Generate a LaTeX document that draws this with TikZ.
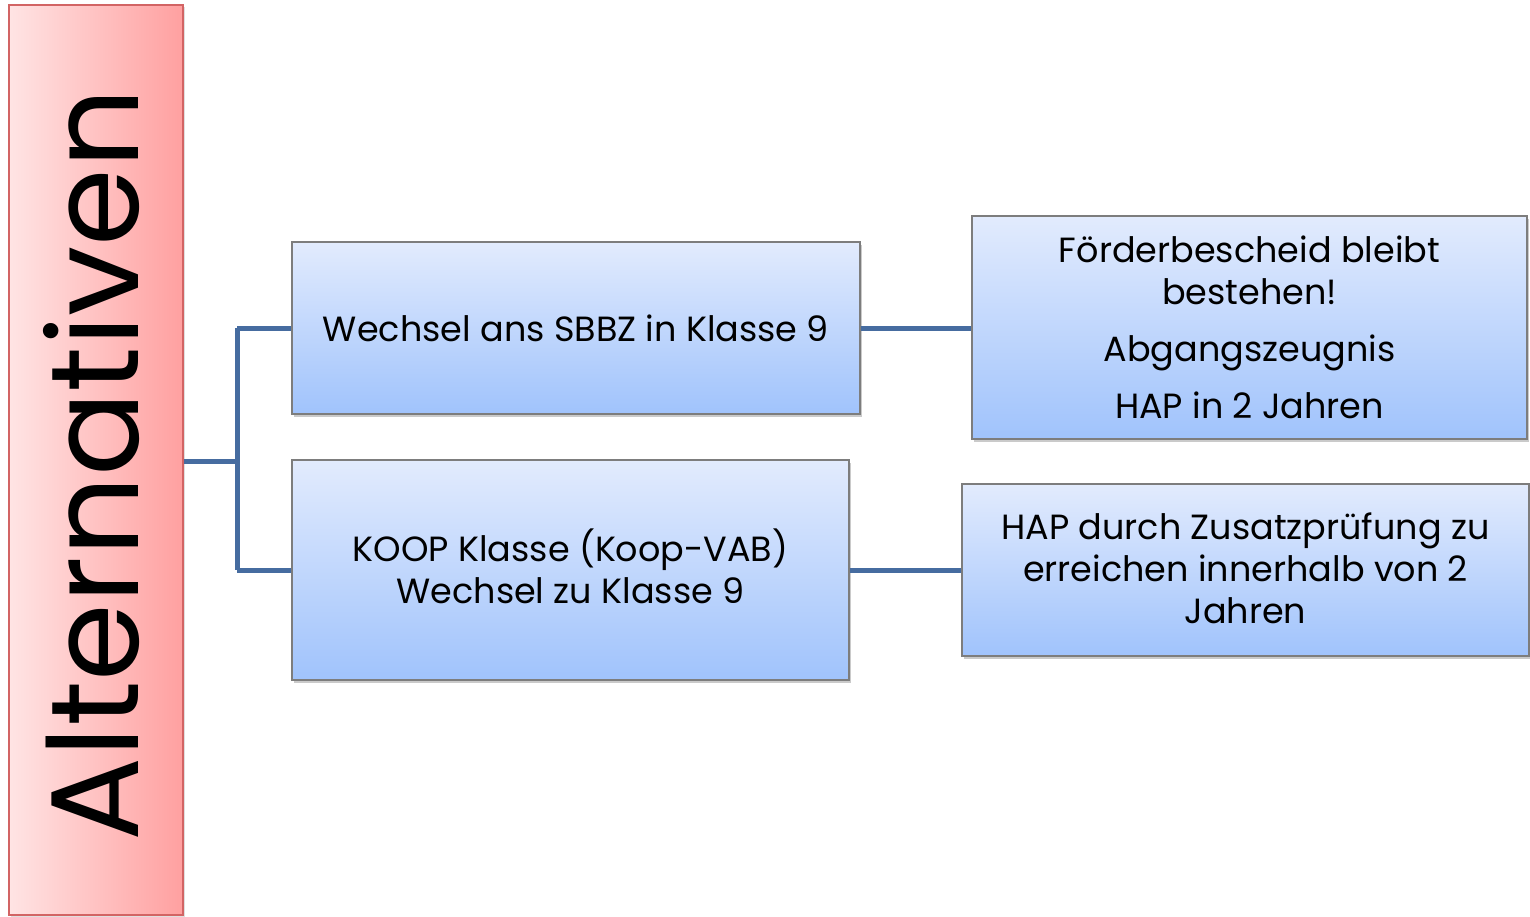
\documentclass[tikz,border=0pt]{standalone}
\usepackage{fontspec}
\setmainfont{Poppins}
\usetikzlibrary{shadows}
\definecolor{conn}{RGB}{70,108,160}
\definecolor{bluetop}{RGB}{226,235,253}
\definecolor{bluebot}{RGB}{160,195,252}
\definecolor{redleft}{RGB}{255,228,228}
\definecolor{redright}{RGB}{255,160,160}
\definecolor{redborder}{RGB}{210,100,100}
\definecolor{boxborder}{RGB}{125,125,125}
\tikzset{
  x=1pt, y=-1pt,
  bluebox/.style={draw=boxborder, line width=1.2pt, top color=bluetop, bottom color=bluebot,
    drop shadow={shadow xshift=2pt, shadow yshift=-3pt, opacity=0.35, fill=black!60},
    align=center, inner sep=0pt, font=\fontsize{35}{42}\selectfont},
  redbox/.style={draw=redborder, line width=1.5pt, left color=redleft, right color=redright,
    drop shadow={shadow xshift=2pt, shadow yshift=-2pt, opacity=0.25, fill=black!50}, inner sep=0pt},
  connector/.style={draw=conn, line width=5pt},
}
\begin{document}
\begin{tikzpicture}
\useasboundingbox (0,0) rectangle (1530,917);
\node[redbox, minimum width=174pt, minimum height=910pt] (alt) at (96,460) {};
\node[rotate=90, anchor=base, inner sep=0pt, font=\fontsize{125}{125}\selectfont] (altlabel) at (138,465) {Alternativen};
\node[bluebox, minimum width=568pt, minimum height=172pt] (b1) at (576,328) {Wechsel ans SBBZ in Klasse 9};
\node[bluebox, minimum width=557pt, minimum height=220pt] (b2) at (570.5,570) {};
\node[align=center, inner sep=0pt, font=\fontsize{35}{42}\selectfont] (b2text) at (570.5,566) {KOOP Klasse (Koop-VAB)\\Wechsel zu Klasse 9};
\node[bluebox, minimum width=555pt, minimum height=223pt] (b3) at (1249.5,327.5) {Förderbescheid bleibt\\bestehen!\\[15pt]Abgangszeugnis\\[15pt]HAP in 2 Jahren};
\node[bluebox, minimum width=567pt, minimum height=172pt] (b4) at (1245.5,570) {};
\node[align=center, inner sep=0pt, font=\fontsize{35}{42}\selectfont] (b4text) at (1245.5,568) {HAP durch Zusatzprüfung zu\\erreichen innerhalb von 2\\Jahren};
\coordinate (fork) at (237,461);
\draw[connector] (alt.east |- fork) -- (fork);
\draw[connector] (fork |- b1.west) -- (fork |- b2.west);
\draw[connector] (fork |- b1.west) -- (b1.west);
\draw[connector] (fork |- b2.west) -- (b2.west);
\draw[connector] (b1.east) -- (b3.west |- b1.east);
\draw[connector] (b2.east) -- (b4.west |- b2.east);
\end{tikzpicture}
\end{document}
